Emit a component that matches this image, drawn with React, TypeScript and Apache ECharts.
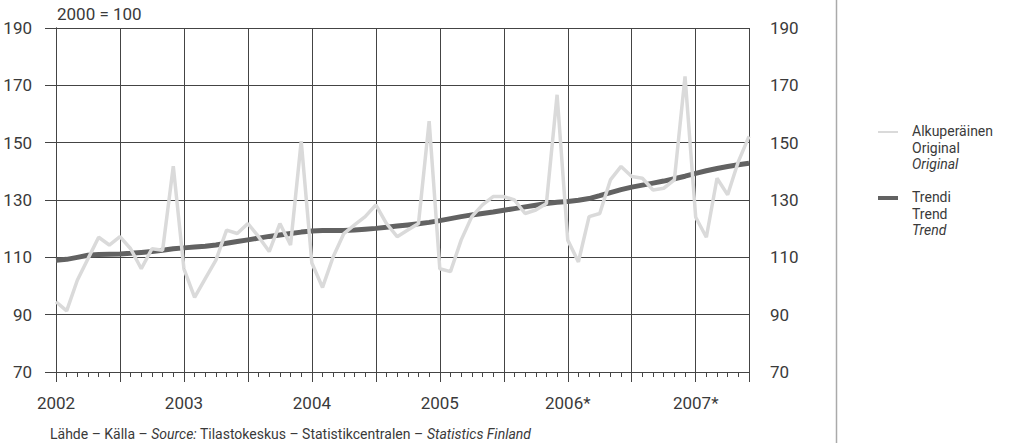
import React, { useEffect, useRef } from "react";
import * as echarts from "echarts";

// Monthly index values, Jan 2002 (index 0) .. Jun 2007 (index 65)
const original: number[] = [
  94.5, 91.3, 102, 109.5, 117, 114.3, 117.2, 113, 106, 113, 112.5, 141.8,
  106, 96, 102.6, 109, 119.5, 118.3, 121.8, 117.2, 112, 121.8, 114.3, 150.5,
  108, 99.5, 110.2, 118.3, 121.3, 124.2, 128.3, 121.8, 117.2, 119.5, 121.8, 157.5,
  106, 105, 116, 124.2, 128.3, 131.2, 131.2, 130, 125.3, 126.5, 128.8, 166.7,
  116, 108.4, 124.2, 125.3, 137, 141.7, 138.2, 137.6, 133.5, 134.1, 137, 173.1,
  124, 117, 137.6, 131.8, 143.4, 152.2,
];
const trend: number[] = [
  109.0, 109.3, 110.0, 110.7, 111.0, 111.1, 111.2, 111.4, 111.7, 112.0, 112.5, 113.0,
  113.3, 113.6, 113.9, 114.3, 114.9, 115.5, 116.1, 116.7, 117.3, 117.8, 118.3, 118.8,
  119.2, 119.4, 119.4, 119.4, 119.5, 119.8, 120.1, 120.5, 120.9, 121.3, 121.7, 122.2,
  122.8, 123.5, 124.2, 124.8, 125.3, 125.8, 126.4, 127.0, 127.6, 128.2, 128.8, 129.2,
  129.5, 129.9, 130.5, 131.5, 132.6, 133.6, 134.5, 135.2, 135.9, 136.6, 137.4, 138.3,
  139.3, 140.2, 141.0, 141.7, 142.3, 142.8,
];
const yearLabels: string[] = ["2002", "2003", "2004", "2005", "2006*", "2007*"];
const yTicks = { min: 70, max: 190, interval: 20 };
const baseNote = "2000 = 100";
const legendOriginal = ["Alkuperäinen", "Original", "Original"];
const legendTrend = ["Trendi", "Trend", "Trend"];

const FONT = "Roboto, 'Liberation Sans', sans-serif";
const TEXT = "#3a3a3a";
const GRID = "#444";

export default function App() {
  const ref = useRef<HTMLDivElement>(null);
  useEffect(() => {
    if (!ref.current) return;
    const chart = echarts.init(ref.current, undefined, { renderer: "svg" });
    const lastIdx = original.length - 1;
    const pitch = 16.5;
    const legendText = (lines: string[], x: number, yFirst: number) =>
      lines.map((t, k) => ({
        type: "text",
        left: x,
        top: yFirst + k * pitch - 8,
        style: {
          text: t,
          fill: TEXT,
          fontSize: 14,
          fontFamily: FONT,
          fontStyle: k === 2 ? "italic" : "normal",
        },
      }));
    chart.setOption({
      animation: false,
      backgroundColor: "#fff",
      grid: { left: 56, right: 263, top: 28, bottom: 73, outerBoundsMode: "none" },
      xAxis: [
        {
          type: "value",
          min: 0,
          max: lastIdx,
          interval: 6,
          position: "bottom",
          axisLine: { show: true, lineStyle: { color: GRID, width: 1 } },
          axisTick: { show: true, length: 10, lineStyle: { color: GRID } },
          splitLine: { show: true, lineStyle: { color: GRID, width: 1 } },
          axisLabel: {
            margin: 22,
            color: TEXT,
            fontSize: 17,
            fontFamily: FONT,
            showMaxLabel: true,
            formatter: (v: number) => (v % 12 === 0 ? yearLabels[v / 12] ?? "" : ""),
          },
        },
        {
          type: "value",
          min: 0,
          max: lastIdx,
          interval: 1,
          position: "bottom",
          axisLine: { show: false },
          axisTick: { show: true, length: 5, lineStyle: { color: GRID } },
          splitLine: { show: false },
          axisLabel: { show: false },
        },
      ],
      yAxis: [
        {
          type: "value",
          position: "left",
          ...yTicks,
          axisLine: { show: true, lineStyle: { color: GRID, width: 1 } },
          axisTick: { show: true, length: 11, lineStyle: { color: GRID } },
          splitLine: { show: true, lineStyle: { color: GRID, width: 1 } },
          axisLabel: { margin: 24, color: TEXT, fontSize: 17, fontFamily: FONT },
        },
        {
          type: "value",
          position: "right",
          ...yTicks,
          axisLine: { show: true, lineStyle: { color: GRID, width: 1 } },
          axisTick: { show: true, length: 11, lineStyle: { color: GRID } },
          splitLine: { show: false },
          axisLabel: { margin: 21, color: TEXT, fontSize: 17, fontFamily: FONT },
        },
      ],
      series: [
        {
          name: "Trendi",
          type: "line",
          xAxisIndex: 0,
          yAxisIndex: 0,
          data: trend.map((v, i) => [i, v]),
          showSymbol: false,
          lineStyle: { color: "#626262", width: 5 },
          z: 3,
        },
        {
          name: "Alkuperäinen",
          type: "line",
          xAxisIndex: 0,
          yAxisIndex: 0,
          data: original.map((v, i) => [i, v]),
          showSymbol: false,
          lineStyle: { color: "#dadada", width: 3.5 },
          z: 4,
        },
      ],
      graphic: [
        {
          type: "text",
          left: 57,
          top: 5,
          style: { text: baseNote, fill: TEXT, fontSize: 17, fontFamily: FONT },
        },
        {
          type: "text",
          left: 50,
          top: 427,
          style: {
            text: "Lähde – Källa – {i|Source:} Tilastokeskus – Statistikcentralen – {i|Statistics Finland}",
            fill: TEXT,
            fontSize: 14,
            fontFamily: FONT,
            rich: { i: { fontStyle: "italic", fontSize: 14, fontFamily: FONT, fill: TEXT } },
          },
        },
        {
          type: "line",
          shape: { x1: 836.5, y1: 0, x2: 836.5, y2: 443 },
          style: { stroke: "#aaa", lineWidth: 1.5 },
        },
        {
          type: "line",
          shape: { x1: 878, y1: 132, x2: 898, y2: 132 },
          style: { stroke: "#dadada", lineWidth: 2 },
        },
        {
          type: "line",
          shape: { x1: 878, y1: 198, x2: 898, y2: 198 },
          style: { stroke: "#626262", lineWidth: 4 },
        },
        ...legendText(legendOriginal, 912, 132),
        ...legendText(legendTrend, 912, 198),
      ],
    });
    return () => chart.dispose();
  }, []);
  return (
    <div
      ref={ref}
      style={{ position: "fixed", left: 0, top: 0, width: 1012, height: 445 }}
    />
  );
}
